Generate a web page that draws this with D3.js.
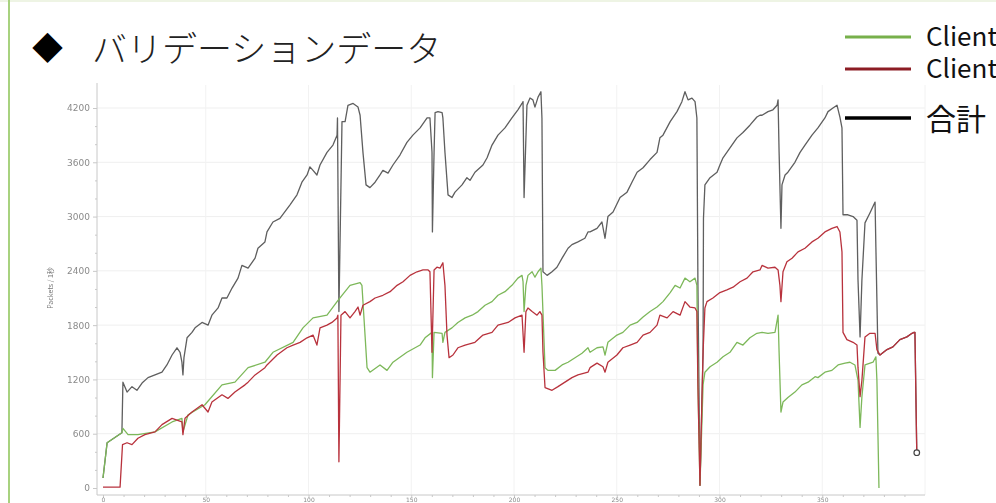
<!DOCTYPE html>
<html>
<head>
<meta charset="utf-8">
<script src="https://cdn.jsdelivr.net/npm/d3@7/dist/d3.min.js"></script>
<style>
  html, body { margin: 0; padding: 0; background: #fff; overflow: hidden; }
  svg { display: block; }
</style>
</head>
<body>
<svg id="chart" width="996" height="503"></svg>
<script>
// Packets per second during validation, per client and combined: [seconds, packets]
const client1 = [
  [0,110],[2,500],[9.2,610],[9.7,660],[12.2,590],[17,590],[25.3,620],[33.6,730],[38.4,770],[38.9,620],
  [41.4,810],[49.6,920],[57.9,1140],[64.2,1170],[70.6,1330],[78.8,1390],[82.7,1500],[92.5,1610],[97.3,1770],
  [102.2,1880],[109,1910],[113.9,2060],[116.3,2130],[120.2,2240],[125.1,2270],[126,2240],[128.5,1330],
  [129.9,1280],[134.8,1360],[138.2,1300],[141.1,1390],[147.9,1500],[154.3,1580],[156.7,1660],[160.1,1720],
  [160.3,1220],[161.1,1720],[165,1710],[165.4,1610],[166.4,1720],[169.8,1770],[172.7,1830],[176.2,1880],
  [179.6,1910],[182.5,1950],[185.9,2020],[189.3,2060],[192.2,2130],[195.6,2170],[199,2240],[201.9,2320],
  [203.9,2350],[204.4,2280],[204.9,1950],[205.8,2240],[206.8,2350],[208.8,2390],[210.2,2330],[211.7,2390],
  [213.1,2430],[213.6,2240],[215.1,1330],[216.5,1300],[220,1300],[223.4,1360],[226.3,1390],[229.7,1440],
  [233.1,1490],[236,1550],[237,1500],[240.4,1550],[243.3,1560],[244.3,1470],[245.7,1610],[250.1,1690],
  [253,1720],[256.5,1800],[259.9,1830],[262.8,1890],[266.2,1950],[269.6,2000],[272.5,2060],[276,2160],
  [278.4,2240],[280.8,2210],[283.2,2320],[285.6,2280],[288.1,2320],[289,2240],[289.5,1140],[290.5,30],
  [292,1140],[292.9,1280],[295.4,1340],[298.8,1390],[301.7,1450],[305.1,1500],[308.5,1610],[311.4,1580],
  [314.8,1660],[318.2,1710],[320.7,1720],[323.6,1710],[327,1720],[328.5,1910],[329,1500],[329.9,840],
  [330.9,950],[333.3,1000],[336.7,1060],[340.1,1140],[343.1,1170],[346.5,1230],[347.9,1220],[351.3,1280],
  [354.7,1300],[357.7,1360],[361.1,1380],[363.5,1390],[365.9,1360],[367.4,1190],[368.4,670],[369.3,1010],
  [370.8,1360],[374.7,1390],[376.1,1450],[376.6,1190],[377.6,0]
];

const client2 = [
  [0,10],[8.3,10],[9.5,480],[11.7,500],[14.1,480],[17,550],[20.4,590],[25.3,620],[28.7,700],[33.6,770],
  [38.4,730],[38.9,590],[39.9,770],[43.3,840],[48.2,920],[51.1,840],[53,950],[57.9,1030],[60.8,990],
  [64.2,1060],[69.1,1140],[70.6,1170],[74,1250],[78.8,1330],[79.8,1360],[84.7,1470],[89.5,1550],[92.5,1580],
  [95.9,1610],[99.3,1660],[102.2,1690],[104.1,1580],[105.6,1770],[109,1800],[111.4,1830],[113.9,1880],
  [114.3,1910],[114.8,290],[115.8,1910],[117.8,1950],[120.2,1880],[122.6,1950],[124.1,2000],[125.1,1910],
  [126.5,2020],[129.9,2060],[132.4,2100],[136.2,2130],[139.7,2170],[143.1,2240],[146,2280],[149.4,2350],
  [152.8,2390],[155.7,2410],[158.2,2410],[159.1,2390],[160.1,1500],[161.1,2410],[162.5,2440],[164,2430],
  [165.4,2490],[166.4,2240],[167.4,1690],[168.4,1440],[170.3,1470],[172.7,1550],[176.2,1580],[181,1610],
  [184.9,1690],[189.3,1720],[192.2,1800],[197.1,1830],[200.5,1880],[203.9,1910],[204.9,1500],[205.8,1950],
  [206.8,1990],[208.8,1950],[211.2,1910],[212.6,1950],[213.6,1910],[214.1,1500],[215.1,1110],[218.5,1080],
  [221.4,1120],[224.8,1170],[228.2,1220],[231.1,1250],[236,1280],[237,1330],[240.4,1380],[243.3,1340],
  [244.3,1280],[245.7,1390],[250.1,1470],[253,1550],[256.5,1580],[259.9,1610],[262.8,1690],[266.2,1720],
  [269.6,1800],[271,1910],[274.5,1880],[277.4,1950],[280.8,1910],[283.2,2060],[285.6,2000],[288.1,1990],
  [289,1950],[289.5,1140],[290.5,30],[292,1500],[292.9,1990],[293.9,2060],[296.8,2100],[300.2,2160],
  [303.6,2190],[306.6,2220],[310,2280],[313.4,2320],[316.3,2390],[319.7,2410],[320.7,2460],[323.6,2430],
  [327,2440],[328.5,2410],[329.4,2240],[329.9,2060],[330.9,2390],[332.8,2500],[335.3,2540],[338.2,2610],
  [341.6,2650],[345,2720],[347.9,2760],[351.3,2830],[354.7,2870],[357.2,2890],[358.6,2830],[359.6,2610],
  [360.1,1720],[362,1640],[365,1610],[366.9,1580],[367.4,1330],[368.4,1010],[369.3,1190],[370.8,1670],
  [373.2,1710],[375.7,1710],[376.6,1530],[378.1,1470],[381.5,1530],[384.4,1560],[387.8,1640],[391.2,1670],
  [393.7,1710],[394.7,1720],[395.1,1720],[396,390]
];

const total = [
  [0,110],[2,500],[9.2,610],[9.7,1170],[11.7,1060],[14.1,1120],[16.5,1080],[19,1160],[21.9,1220],[25.3,1250],
  [28.7,1280],[31.1,1360],[33.6,1470],[36,1550],[37.5,1500],[38.4,1390],[38.9,1250],[39.4,1440],[40.9,1660],
  [43.3,1720],[44.8,1770],[48.2,1830],[51.1,1800],[53,1910],[56,1990],[57.9,2100],[60.3,2100],[62.8,2210],
  [65.7,2320],[67.6,2460],[70.6,2430],[74,2540],[75.4,2650],[78.8,2720],[79.8,2830],[82.7,2940],[86.1,2980],
  [91,3130],[94.4,3240],[96.8,3380],[99.3,3460],[100.7,3550],[102.2,3510],[104.1,3460],[105.6,3570],
  [109,3710],[111.9,3790],[113.9,3900],[114.1,4090],[114.8,1950],[116.3,4050],[117.8,4050],[119.2,4230],
  [121.7,4250],[124.1,4210],[125.1,4120],[126.5,3710],[128,3350],[129.9,3320],[132.4,3380],[134.8,3460],
  [136.2,3510],[138.7,3480],[141.1,3570],[144.5,3680],[147.9,3820],[150.8,3900],[154.3,3980],[157.7,4090],
  [159.1,4090],[160.1,3710],[160.3,2830],[161.1,3710],[161.6,4150],[163,4160],[165,4150],[165.4,4090],
  [166.4,3710],[167.9,3240],[169.8,3210],[171.3,3270],[174.7,3350],[177.1,3430],[178.6,3400],[181,3490],
  [184.9,3570],[186.9,3650],[189.3,3790],[192.2,3900],[195.6,3980],[199,4090],[201.9,4180],[203.9,4250],
  [204.4,4270],[204.9,3210],[206.3,4230],[207.8,4310],[209.2,4290],[210.2,4210],[211.7,4320],[213.1,4380],
  [213.6,4090],[214.1,2390],[216.1,2350],[218.5,2390],[220.9,2440],[223.4,2540],[226.3,2650],[228.2,2690],
  [231.1,2720],[234.5,2760],[236,2830],[237,2830],[240.4,2870],[242.8,2940],[244.3,2760],[245.7,3000],
  [248.2,3050],[251.6,3210],[255,3270],[257.4,3380],[259.9,3490],[262.8,3540],[266.2,3630],[269.6,3710],
  [271,3870],[272.5,3900],[276,4050],[279.3,4160],[281.7,4270],[283.2,4380],[284.7,4290],[286.6,4310],
  [288.1,4270],[289,4090],[289.5,2240],[290.5,30],[292,1500],[292.2,2980],[292.9,3350],[295.4,3430],
  [298.8,3490],[300.2,3570],[301.7,3650],[305.1,3760],[308.5,3870],[311.4,3930],[314.8,4010],[318.2,4100],
  [319.7,4120],[320.7,4120],[323.6,4160],[326,4180],[328,4230],[328.5,4290],[329,3710],[329.9,2870],
  [330.4,3350],[331.9,3460],[333.3,3490],[336.7,3600],[339.2,3710],[341.6,3790],[345,3900],[347.9,3980],
  [351.3,4090],[352.8,4160],[355.2,4200],[357.2,4230],[358.6,4100],[359.6,3980],[360.1,3020],[362.5,3020],
  [365,3000],[366.9,2960],[367.4,2300],[368.4,1670],[369.3,2300],[370.8,2930],[373.2,3040],[375.7,3160],
  [376.1,2660],[377.1,1490],[378.1,1470],[381.5,1530],[384.4,1560],[387.8,1640],[391.2,1670],[393.7,1710],
  [394.7,1720],[395.1,1720],[396,390]
];

const seriesNames = ["Client 1", "Client 2", "合計"];
const yTickValues = [0, 600, 1200, 1800, 2400, 3000, 3600, 4200];
const xTickValues = [0, 50, 100, 150, 200, 250, 300, 350];
const titleText = "バリデーションデータ";
const yAxisTitle = "Packets / 1秒";

const svg = d3.select("#chart");

// soft rendering for the embedded plot image
const defs = svg.append("defs");
defs.append("filter").attr("id", "soft")
  .append("feGaussianBlur").attr("stdDeviation", 0.35);

// slide frame: thin green rule down the left edge, pale rule on top
svg.append("rect").attr("x", 0).attr("y", 0).attr("width", 996).attr("height", 2).attr("fill", "#eef4e4");
svg.append("rect").attr("x", 8).attr("y", 0).attr("width", 2).attr("height", 503).attr("fill", "#a8d27f");

// heading
svg.append("text").attr("x", 32).attr("y", 59)
  .attr("font-family", "'Noto Sans CJK JP', sans-serif").attr("font-size", 31)
  .attr("fill", "#000").text("◆");
svg.append("text").attr("x", 92).attr("y", 62)
  .attr("font-family", "'Noto Sans CJK JP', sans-serif").attr("font-weight", 300).attr("font-size", 35)
  .attr("fill", "#222").text(titleText);

// scales
const x = d3.scaleLinear().domain([0, 400]).range([103, 925]);
const y = d3.scaleLinear().domain([0, 4200]).range([488, 108]);

const plot = svg.append("g").attr("class", "plot").attr("filter", "url(#soft)");

// faint grid
plot.append("g").selectAll("line").data(yTickValues.slice(1)).join("line")
  .attr("x1", 97).attr("x2", 925).attr("y1", d => y(d)).attr("y2", d => y(d))
  .attr("stroke", "#efefef").attr("stroke-width", 1);
plot.append("g").selectAll("line").data(xTickValues.slice(1).concat([400])).join("line")
  .attr("x1", d => x(d)).attr("x2", d => x(d)).attr("y1", 85).attr("y2", 495)
  .attr("stroke", "#f2f2f2").attr("stroke-width", 1);

// axes, offset from the data area
const axisColor = "#c8c8c8";
const fmt = d3.format("d");
const yAxis = plot.append("g").attr("transform", "translate(97,0)")
  .call(d3.axisLeft(y).tickValues(yTickValues).tickFormat(fmt).tickSize(4).tickPadding(3));
const yMinor = plot.append("g").attr("transform", "translate(97,0)")
  .call(d3.axisLeft(y).tickValues(d3.range(0, 4400, 200).filter(v => v % 600 !== 0)).tickSize(2).tickFormat(""));
const xAxis = plot.append("g").attr("transform", "translate(0,495)")
  .call(d3.axisBottom(x).tickValues(xTickValues).tickFormat(fmt).tickSize(3).tickPadding(0));
const xMinor = plot.append("g").attr("transform", "translate(0,495)")
  .call(d3.axisBottom(x).tickValues(d3.range(0, 400, 10).filter(v => v % 50 !== 0)).tickSize(2).tickFormat(""));
[yAxis, yMinor, xAxis, xMinor].forEach(g => {
  g.select(".domain").remove();
  g.selectAll("line").attr("stroke", axisColor);
  g.selectAll("text").attr("fill", "#8a8a8a").attr("font-family", "'DejaVu Sans', sans-serif").attr("font-size", 9);
});
// x tick labels sit right at the lower edge
xAxis.selectAll("text").attr("font-size", 6).attr("dy", 0).attr("y", 6.5);
plot.append("line").attr("x1", 97).attr("x2", 97).attr("y1", 83).attr("y2", 495).attr("stroke", axisColor);
plot.append("line").attr("x1", 97).attr("x2", 925).attr("y1", 495).attr("y2", 495).attr("stroke", axisColor);

plot.append("text")
  .attr("transform", "translate(53,288) rotate(-90)")
  .attr("text-anchor", "middle")
  .attr("font-family", "'Noto Sans CJK JP', sans-serif").attr("font-size", 7)
  .attr("fill", "#777").text(yAxisTitle);

// series lines
const line = d3.line().x(d => x(d[0])).y(d => y(d[1]));
const lines = [
  { data: total, color: "#5e5e5e" },
  { data: client1, color: "#7db85a" },
  { data: client2, color: "#b8323c" }
];
plot.append("g").selectAll("path").data(lines).join("path")
  .attr("d", d => line(d.data))
  .attr("fill", "none").attr("stroke", d => d.color)
  .attr("stroke-width", 1.3).attr("stroke-linejoin", "round");

// end-of-run marker on the combined series
const last = total[total.length - 1];
plot.append("circle").attr("cx", x(last[0])).attr("cy", y(last[1])).attr("r", 2.8)
  .attr("fill", "#fff").attr("stroke", "#444").attr("stroke-width", 1.2);

// legend (the slide edge trims the client labels)
const legendColors = ["#77b04b", "#8c1c24", "#000"];
const legendY = [37, 69, 118];
const legendSize = [26, 26, 30];
const legend = svg.append("g");
seriesNames.forEach((name, i) => {
  legend.append("line").attr("x1", 845).attr("x2", 911).attr("y1", legendY[i]).attr("y2", legendY[i])
    .attr("stroke", legendColors[i]).attr("stroke-width", i === 2 ? 3.5 : 3);
  legend.append("text").attr("x", 926).attr("y", legendY[i] + (i === 2 ? 12 : 9))
    .attr("font-family", "'Noto Sans CJK JP', sans-serif").attr("font-size", legendSize[i])
    .attr("fill", "#111").text(name);
});
</script>
</body>
</html>
